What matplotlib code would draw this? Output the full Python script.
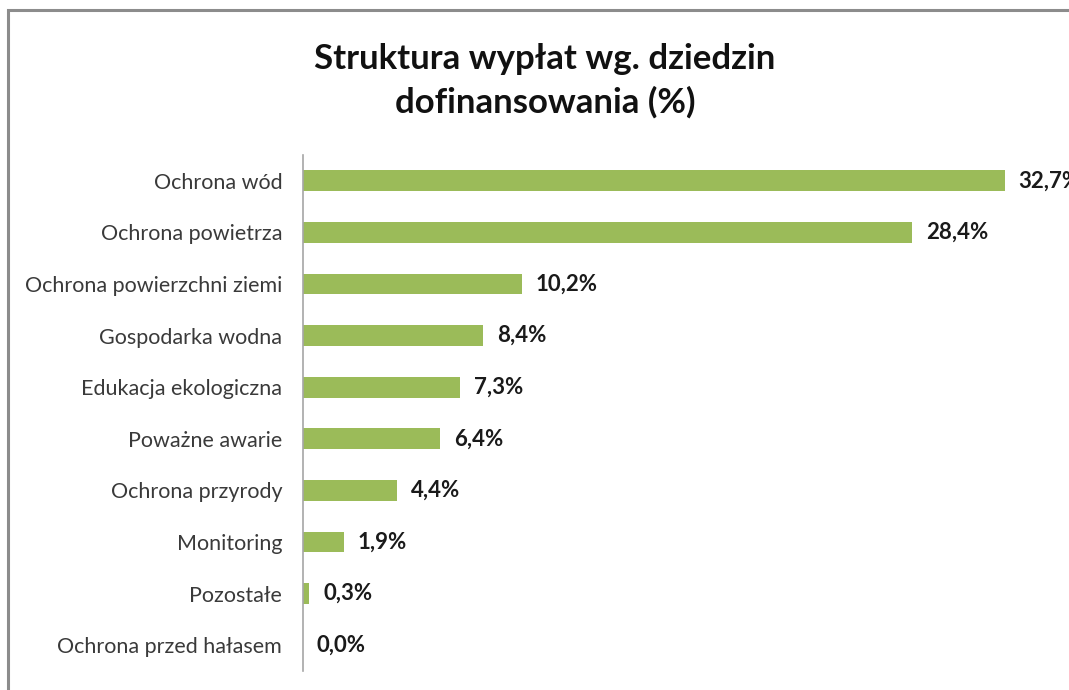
import matplotlib.pyplot as plt
from matplotlib.patches import Rectangle

# Chart data
categories = ["Ochrona wód", "Ochrona powietrza", "Ochrona powierzchni ziemi",
              "Gospodarka wodna", "Edukacja ekologiczna", "Poważne awarie",
              "Ochrona przyrody", "Monitoring", "Pozostałe",
              "Ochrona przed hałasem"]
shares = [32.7, 28.4, 10.2, 8.4, 7.3, 6.4, 4.4, 1.9, 0.3, 0.0]
title_text = "Struktura wypłat wg. dziedzin\ndofinansowania (%)"

plt.rcParams['font.family'] = ['Lato', 'DejaVu Sans']

fig = plt.figure(figsize=(10.69, 6.90), dpi=100)
W, H = 1069, 690

# Outer gray frame (cut off at right and bottom like the reference)
fig.patches.append(Rectangle((8 / W, -0.1), 1.2, (H - 10) / H + 0.1,
                             transform=fig.transFigure, fill=False,
                             edgecolor="#8c8c8c", linewidth=2.2))

ax = fig.add_axes([303 / W, 19 / H, 751 / W, 516 / H])
pos = list(range(len(categories)))
ax.barh(pos, shares, height=0.4, color="#9BBB59")
ax.set_ylim(len(categories) - 0.5, -0.5)
ax.set_xlim(0, 35)

ax.set_yticks(pos)
ax.set_yticklabels(categories, fontsize=15.5, color="#3a3a3a")
ax.tick_params(axis='y', length=0, pad=15)
ax.set_xticks([])
for side in ["top", "right", "bottom"]:
    ax.spines[side].set_visible(False)
ax.spines["left"].set_color("#a6a6a6")
ax.spines["left"].set_linewidth(1.2)

# Value labels
for p, v in zip(pos, shares):
    ax.annotate(f"{v:.1f}%".replace(".", ","), (v, p), xytext=(10, 0),
                textcoords="offset points", va="center", ha="left",
                fontsize=16, fontweight="bold", color="#1a1a1a",
                annotation_clip=False)

fig.text(545 / W, 1 - 81 / H, title_text, ha="center", va="center",
         fontsize=25, fontweight="bold", color="#111111", linespacing=1.4)

fig.savefig("out.png", dpi=100)
